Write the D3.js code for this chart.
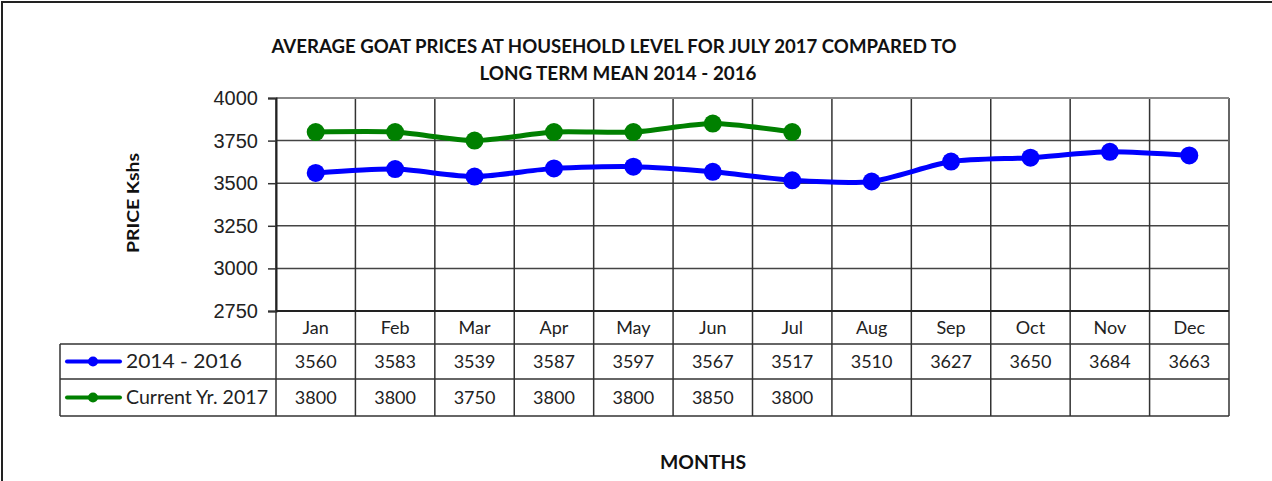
<!DOCTYPE html>
<html>
<head>
<meta charset="utf-8">
<title>Goat prices</title>
<script src="https://d3js.org/d3.v7.min.js"></script>
<style>
  body { margin: 0; background: #fff; }
  svg { display: block; }
</style>
</head>
<body>
<div id="chart"></div>
<script>
// data
var months = ["Jan", "Feb", "Mar", "Apr", "May", "Jun", "Jul", "Aug", "Sep", "Oct", "Nov", "Dec"];
var longTerm = [3560, 3583, 3539, 3587, 3597, 3567, 3517, 3510, 3627, 3650, 3684, 3663];
var current = [3800, 3800, 3750, 3800, 3800, 3850, 3800];
var seriesNames = ["2014 - 2016", "Current Yr. 2017"];
var seriesColors = ["#0000ff", "#008000"];
var yTicks = [2750, 3000, 3250, 3500, 3750, 4000];

var W = 1272, H = 481;
var plot = {left: 276, right: 1229, top: 98, bottom: 311};
var rows = [311, 344, 379, 416];
var tableLeft = 60;
var legendTextLen = [116, 142];

var svg = d3.select("#chart").append("svg")
    .attr("width", W)
    .attr("height", H);

// outer frame (runs off the right / bottom edges)
svg.append("rect")
    .attr("x", 2).attr("y", 2)
    .attr("width", W + 20).attr("height", H + 20)
    .attr("fill", "#fff")
    .attr("stroke", "#222")
    .attr("stroke-width", 2);

var x = d3.scaleBand().domain(months).range([plot.left, plot.right]);
var y = d3.scaleLinear().domain([2750, 4000]).range([plot.bottom, plot.top]);

// title
var title = svg.append("g")
    .attr("font-family", "Lato, sans-serif")
    .attr("font-weight", "bold")
    .attr("font-size", 18)
    .attr("fill", "#111")
    .attr("text-anchor", "middle");
title.append("text").attr("x", 614).attr("y", 53)
    .attr("textLength", 685).attr("lengthAdjust", "spacingAndGlyphs")
    .text("AVERAGE GOAT PRICES AT HOUSEHOLD LEVEL FOR JULY 2017 COMPARED TO");
title.append("text").attr("x", 618).attr("y", 80)
    .attr("textLength", 277).attr("lengthAdjust", "spacingAndGlyphs")
    .text("LONG TERM MEAN 2014 - 2016");

// horizontal gridlines
svg.append("g")
    .selectAll("line")
    .data(yTicks.slice(1, -1))
    .join("line")
    .attr("x1", plot.left).attr("x2", plot.right)
    .attr("y1", d => y(d)).attr("y2", d => y(d))
    .attr("stroke", "#444").attr("stroke-width", 1.5);

// vertical gridlines (category boundaries), continue through the table
var bounds = months.map(m => x(m)).concat([plot.right]);
svg.append("g")
    .selectAll("line")
    .data(bounds)
    .join("line")
    .attr("x1", d => d).attr("x2", d => d)
    .attr("y1", plot.top).attr("y2", rows[3])
    .attr("stroke", (d, i) => i == bounds.length - 1 ? "#666" : "#333")
    .attr("stroke-width", (d, i) => i == bounds.length - 1 ? 2 : 1.5);

// plot top border
svg.append("line")
    .attr("x1", plot.left).attr("x2", plot.right)
    .attr("y1", plot.top).attr("y2", plot.top)
    .attr("stroke", "#888").attr("stroke-width", 2);

// y axis
var yAxis = svg.append("g")
    .attr("transform", "translate(" + plot.left + ",0)")
    .call(d3.axisLeft(y).tickValues(yTicks).tickSize(8).tickPadding(10).tickFormat(d3.format("d")));
yAxis.select(".domain").attr("stroke", "#222").attr("stroke-width", 2);
yAxis.selectAll(".tick line").attr("stroke", "#333").attr("stroke-width", 1.5);
yAxis.selectAll(".tick text")
    .attr("font-family", "'Liberation Sans', Arial, sans-serif")
    .attr("font-size", 20)
    .attr("fill", "#222");

// table lines
svg.append("line")
    .attr("x1", plot.left).attr("x2", plot.right)
    .attr("y1", rows[0]).attr("y2", rows[0])
    .attr("stroke", "#222").attr("stroke-width", 2);
svg.append("g")
    .selectAll("line")
    .data(rows.slice(1))
    .join("line")
    .attr("x1", tableLeft).attr("x2", plot.right)
    .attr("y1", d => d).attr("y2", d => d)
    .attr("stroke", "#333").attr("stroke-width", 1.5);
svg.append("line")
    .attr("x1", tableLeft).attr("x2", tableLeft)
    .attr("y1", rows[1]).attr("y2", rows[3])
    .attr("stroke", "#333").attr("stroke-width", 1.5);

var cellFont = "Lato, 'Open Sans', sans-serif";

// category row
svg.append("g")
    .selectAll("text")
    .data(months)
    .join("text")
    .attr("x", d => x(d) + x.bandwidth() / 2)
    .attr("y", (rows[0] + rows[1]) / 2 + 6)
    .attr("text-anchor", "middle")
    .attr("font-family", cellFont)
    .attr("font-size", 18)
    .attr("fill", "#222")
    .text(d => d);

var allSeries = [longTerm, current];

allSeries.forEach(function(vals, s) {
    var rowMid = (rows[s + 1] + rows[s + 2]) / 2;
    var color = seriesColors[s];

    // values in the table
    svg.append("g")
        .selectAll("text")
        .data(vals)
        .join("text")
        .attr("x", (d, i) => x(months[i]) + x.bandwidth() / 2)
        .attr("y", rowMid + 6.5)
        .attr("text-anchor", "middle")
        .attr("font-family", cellFont)
        .attr("font-size", 18)
        .attr("fill", "#222")
        .text(d => d);

    // legend key
    svg.append("line")
        .attr("x1", 67).attr("x2", 120)
        .attr("y1", rowMid).attr("y2", rowMid)
        .attr("stroke", color).attr("stroke-width", 4)
        .attr("stroke-linecap", "round");
    svg.append("circle")
        .attr("cx", 93).attr("cy", rowMid).attr("r", 5)
        .attr("fill", color);
    svg.append("text")
        .attr("x", 126).attr("y", rowMid + 6.5)
        .attr("font-family", cellFont)
        .attr("font-size", 19)
        .attr("textLength", legendTextLen[s]).attr("lengthAdjust", "spacingAndGlyphs")
        .attr("fill", "#222")
        .text(seriesNames[s]);
});

// series lines (smoothed like the original)
var line = d3.line()
    .x((d, i) => x(months[i]) + x.bandwidth() / 2)
    .y(d => y(d))
    .curve(d3.curveCardinal.tension(0.3));

allSeries.forEach(function(vals, s) {
    svg.append("path")
        .datum(vals)
        .attr("d", line)
        .attr("fill", "none")
        .attr("stroke", seriesColors[s])
        .attr("stroke-width", 5)
        .attr("stroke-linejoin", "round");
    svg.append("g")
        .selectAll("circle")
        .data(vals)
        .join("circle")
        .attr("cx", (d, i) => x(months[i]) + x.bandwidth() / 2)
        .attr("cy", d => y(d))
        .attr("r", 9)
        .attr("fill", seriesColors[s]);
});

// axis titles
svg.append("text")
    .attr("transform", "translate(139,203) rotate(-90)")
    .attr("text-anchor", "middle")
    .attr("font-family", "Lato, sans-serif")
    .attr("font-weight", "bold")
    .attr("font-size", 17)
    .attr("textLength", 100).attr("lengthAdjust", "spacingAndGlyphs")
    .attr("fill", "#111")
    .text("PRICE Kshs");

svg.append("text")
    .attr("x", 703).attr("y", 469)
    .attr("text-anchor", "middle")
    .attr("font-family", "Lato, sans-serif")
    .attr("font-weight", "bold")
    .attr("font-size", 18)
    .attr("textLength", 86).attr("lengthAdjust", "spacingAndGlyphs")
    .attr("fill", "#111")
    .text("MONTHS");
</script>
</body>
</html>
